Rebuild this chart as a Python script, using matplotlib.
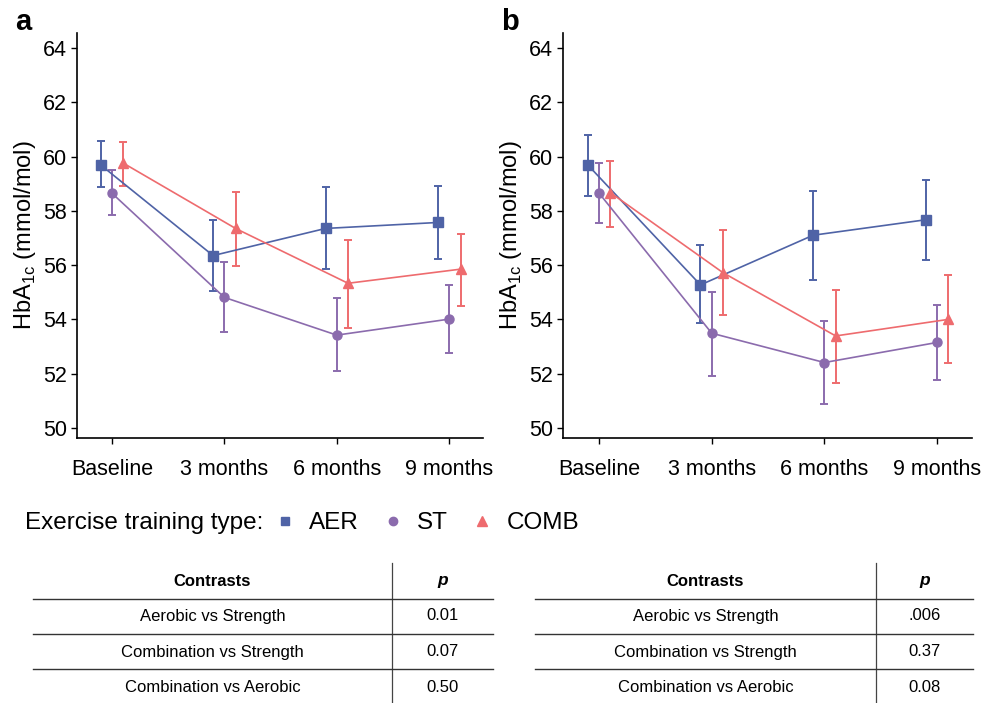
import matplotlib
matplotlib.use('Agg')
import matplotlib.pyplot as plt
from matplotlib.lines import Line2D

plt.rcParams['font.family'] = ['Liberation Sans', 'DejaVu Sans']

timepoints = ['Baseline', '3 months', '6 months', '9 months']
groups = ['AER', 'ST', 'COMB']
colors = {'AER': '#4F63A6', 'ST': '#8B6BAD', 'COMB': '#EE6B6E'}
markers = {'AER': 's', 'ST': 'o', 'COMB': '^'}
msizes = {'AER': 6.5, 'ST': 6.5, 'COMB': 7.5}
dodge = {'AER': -0.1, 'ST': 0.0, 'COMB': 0.1}

# panel a: mean, lower, upper
a_mean = {'AER': [59.69, 56.35, 57.35, 57.57],
          'ST': [58.65, 54.81, 53.42, 54.01],
          'COMB': [59.76, 57.35, 55.33, 55.85]}
a_low = {'AER': [58.86, 55.05, 55.85, 56.22],
         'ST': [57.84, 53.53, 52.09, 52.77],
         'COMB': [58.93, 55.98, 53.70, 54.50]}
a_high = {'AER': [60.56, 57.67, 58.86, 58.92],
          'ST': [59.49, 56.13, 54.78, 55.25],
          'COMB': [60.54, 58.69, 56.92, 57.15]}

# panel b
b_mean = {'AER': [59.69, 55.27, 57.10, 57.67],
          'ST': [58.65, 53.49, 52.41, 53.15],
          'COMB': [58.67, 55.72, 53.39, 54.00]}
b_low = {'AER': [58.56, 53.85, 55.45, 56.17],
         'ST': [57.54, 51.92, 50.87, 51.78],
         'COMB': [57.39, 54.16, 51.66, 52.40]}
b_high = {'AER': [60.78, 56.74, 58.74, 59.15],
          'ST': [59.76, 55.02, 53.95, 54.52],
          'COMB': [59.84, 57.30, 55.09, 55.62]}

contrasts = ['Aerobic vs Strength', 'Combination vs Strength', 'Combination vs Aerobic']
p_a = ['0.01', '0.07', '0.50']
p_b = ['.006', '0.37', '0.08']

W, H = 987, 703
fig = plt.figure(figsize=(W / 100, H / 100), dpi=100)


def draw_panel(ax, mean, low, high, xlim):
    for g in groups:
        xs = [i + dodge[g] for i in range(len(timepoints))]
        yerr = [[m - l for m, l in zip(mean[g], low[g])],
                [h - m for m, h in zip(mean[g], high[g])]]
        ax.errorbar(xs, mean[g], yerr=yerr, color=colors[g], marker=markers[g],
                    markersize=msizes[g], lw=1.2, elinewidth=1.4, capsize=3,
                    capthick=1.4)
    ax.set_xlim(*xlim)
    ax.set_ylim(49.63, 64.55)
    ax.set_yticks(range(50, 65, 2))
    ax.set_xticks(range(len(timepoints)))
    ax.set_xticklabels(timepoints)
    ax.tick_params(labelsize=15.5, length=4, width=1.0, color='black', pad=3)
    ax.tick_params(axis='x', pad=11)
    for s in ['top', 'right']:
        ax.spines[s].set_visible(False)
    for s in ['left', 'bottom']:
        ax.spines[s].set_linewidth(1.2)
    ax.set_ylabel('HbA$_{\\mathregular{1c}}$ (mmol/mol)', fontsize=17, labelpad=4)


ax_a = fig.add_axes([77 / W, 1 - 438 / H, 406 / W, 405 / H])
draw_panel(ax_a, a_mean, a_low, a_high, (-0.31, 3.30))
ax_b = fig.add_axes([563 / W, 1 - 438 / H, 409 / W, 405 / H])
draw_panel(ax_b, b_mean, b_low, b_high, (-0.32, 3.31))

fig.text(23 / W, 1 - 22 / H, 'a', fontsize=21, fontweight='bold', ha='center', va='center')
fig.text(510 / W, 1 - 22 / H, 'b', fontsize=21, fontweight='bold', ha='center', va='center')

# legend
fig.text(25 / W, 1 - 523 / H, 'Exercise training type:', fontsize=17.5, va='center')
handles = [Line2D([], [], color=colors[g], marker=markers[g], linestyle='none',
                  markersize=6 if g != 'COMB' else 7) for g in groups]
fig.legend(handles, groups, ncol=3, loc='center left', frameon=False,
           bbox_to_anchor=(263 / W, 1 - 523 / H), fontsize=17.5, borderpad=0,
           handlelength=0.8, handletextpad=0.6, columnspacing=1.0)

# tables
tab = fig.add_axes([0, 0, 1, 1])
tab.set_xlim(0, W)
tab.set_ylim(H, 0)
tab.axis('off')


def draw_table(x0, x1, xdiv, pvals):
    xc = (x0 + xdiv) / 2
    xp = (xdiv + x1) / 2
    tab.text(xc, 581, 'Contrasts', fontsize=12, fontweight='bold', ha='center', va='center')
    tab.text(xp, 581, 'p', fontsize=12.5, fontweight='bold', style='italic', ha='center', va='center')
    tab.plot([xdiv, xdiv], [563, 703], color='#444444', lw=0.9)
    row_y = [616, 652, 688]
    line_y = [599, 634, 669]
    for ly in line_y:
        tab.plot([x0, x1], [ly, ly], color='#333333', lw=1.0)
    for ry, c, p in zip(row_y, contrasts, pvals):
        tab.text(xc, ry, c, fontsize=12, ha='center', va='center')
        tab.text(xp, ry, p, fontsize=12, ha='center', va='center')


draw_table(33, 493, 392, p_a)
draw_table(535, 973, 876, p_b)

fig.savefig('out.png', dpi=100)
